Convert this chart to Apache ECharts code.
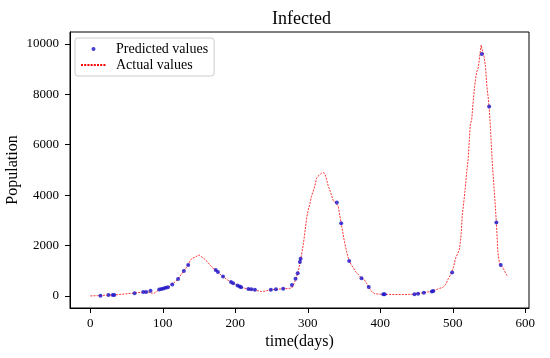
<!DOCTYPE html>
<html>
<head>
<meta charset="utf-8">
<script src="https://cdn.jsdelivr.net/npm/echarts@6/dist/echarts.min.js"></script>
<style>html,body{margin:0;padding:0;background:#fff}#c{width:550px;height:358px}</style>
</head>
<body>
<div id="c"></div>
<script>
// Actual values: [day, population]
const actualValues = [
[0,0],[5,5],[10,10],[15,15],[20,25],[25,35],[30,40],[35,45],[40,55],[45,70],[50,85],[55,100],[60,115],[65,130],[70,140],[75,150],[80,155],[84,110],[88,105],[92,190],[96,260],[100,290],[104,320],[108,350],[113,460],[117,560],[121,675],[125,830],[129,990],[132,1110],[135,1230],[138,1420],[141,1500],[144,1530],[147,1580],[150,1627],[152,1600],[155,1520],[158,1450],[161,1370],[164,1260],[168,1130],[171,1060],[174,1000],[177,920],[180,830],[183,767],[187,680],[191,600],[195,540],[199,470],[203,410],[207,360],[211,320],[215,290],[220,265],[225,240],[230,210],[236,172],[241,190],[246,230],[250,240],[256,260],[262,275],[266,285],[270,290],[275,300],[278,320],[281,500],[284,700],[287,1000],[290,1420],[292,1750],[294,2090],[296,2550],[298,3016],[300,3350],[303,3677],[305,3950],[308,4206],[310,4400],[312,4670],[314,4750],[316,4800],[319,4870],[322,4894],[324,4800],[326,4603],[328,4380],[331,4140],[335,3783],[338,3720],[340,3703],[342,3550],[344,3200],[346,2884],[348,2550],[350,2222],[352,1950],[354,1693],[357,1389],[360,1230],[363,1100],[366,960],[370,833],[374,700],[378,640],[381,500],[384,345],[388,172],[392,90],[396,75],[400,70],[405,65],[410,60],[420,55],[430,55],[440,60],[446,65],[452,90],[460,130],[466,160],[471,180],[474,200],[478,260],[482,305],[486,330],[490,450],[494,700],[497,850],[499,925],[501,1150],[503,1430],[505,1580],[507,1700],[509,1850],[511,2300],[513,3214],[515,3700],[517,4250],[519,4900],[521,5400],[523,6300],[524,6785],[526,7000],[528,7712],[530,8300],[532,8750],[533,8900],[535,9050],[537,9500],[539,9960],[541,9700],[543,9500],[545,9100],[547,8300],[549,7800],[550,7513],[552,6600],[553,5990],[555,5000],[557,4200],[558,3800],[560,2910],[562,1760],[564,1350],[566,1230],[568,1150],[570,1070],[572,950],[574,833],[576,767]
];
// Predicted values: [day, population]
const predictedValues = [
[14,5],[25,35],[31,40],[33,40],[61,105],[73,155],[77,160],[83,200],[95,255],[98,270],[101,290],[104,320],[107,340],[113,455],[121,675],[129,990],[135,1230],[173,1030],[176,950],[183,767],[194,555],[197,500],[203,410],[206,370],[208,340],[218,270],[222,260],[227,240],[249,245],[256,260],[266,280],[278,436],[283,680],[286,900],[289,1350],[290,1470],[340,3703],[346,2884],[357,1389],[374,700],[384,355],[404,65],[406,65],[447,70],[452,90],[460,125],[471,172],[473,195],[499,925],[540,9600],[550,7513],[560,2910],[566,1230]
];
const xTicks = [0,100,200,300,400,500,600];
const yTicks = [0,2000,4000,6000,8000,10000];
const seriesNames = ['Predicted values','Actual values'];

const FONT = 'Liberation Serif';
const plain = v => String(v);
const chart = echarts.init(document.getElementById('c'), null, {renderer:'canvas'});
chart.setOption({
  animation: false,
  backgroundColor: '#fff',
  title: {
    text: 'Infected', left: 267, top: 5,
    textStyle: {fontFamily: FONT, fontSize: 18, fontWeight: 'normal', color: '#000'}
  },
  legend: {
    orient: 'vertical', left: 75, top: 38,
    data: [
      {name: seriesNames[0], icon: 'circle'},
      {name: seriesNames[1], itemStyle: {opacity: 0}}
    ],
    itemWidth: 25, itemHeight: 4, itemGap: 2,
    padding: [4, 6, 4, 5],
    borderColor: '#cccccc', borderWidth: 1, borderRadius: 3,
    backgroundColor: 'rgba(255,255,255,0.8)',
    textStyle: {fontFamily: FONT, fontSize: 14, color: '#000', padding: [0,0,0,5]}
  },
  grid: {left: 70, right: 21, top: 32, bottom: 50, show: true, borderColor: '#000', borderWidth: 1,
         containLabel: false, outerBoundsMode: 'none'},
  xAxis: {
    type: 'value', min: -28, max: 605,
    name: 'time(days)', nameLocation: 'middle', nameGap: 26, nameMoveOverlap: false,
    nameTextStyle: {fontFamily: FONT, fontSize: 16, color: '#000'},
    axisLine: {show: true, onZero: false, lineStyle: {color: '#000', width: 1}},
    axisTick: {show: true, length: 5, customValues: xTicks, lineStyle: {color: '#000'}},
    axisLabel: {customValues: xTicks, formatter: plain, margin: 9, fontFamily: FONT, fontSize: 13, color: '#000'},
    splitLine: {show: false}
  },
  yAxis: {
    type: 'value', min: -480, max: 10475,
    name: 'Population', nameLocation: 'middle', nameGap: 49, nameMoveOverlap: false,
    nameTextStyle: {fontFamily: FONT, fontSize: 16, color: '#000'},
    axisLine: {show: true, onZero: false, lineStyle: {color: '#000', width: 1}},
    axisTick: {show: true, length: 5, customValues: yTicks, lineStyle: {color: '#000'}},
    axisLabel: {customValues: yTicks, formatter: plain, margin: 11, fontFamily: FONT, fontSize: 13, color: '#000'},
    splitLine: {show: false}
  },
  series: [
    {
      name: seriesNames[0], type: 'scatter', data: predictedValues,
      symbol: 'circle', symbolSize: 4, z: 5,
      itemStyle: {color: '#1810c8'}
    },
    {
      name: seriesNames[1], type: 'line', data: actualValues,
      symbol: 'none', showSymbol: false, z: 3,
      lineStyle: {color: '#ff0000', width: 0.8, type: [2, 1.2]}
    }
  ]
});
</script>
</body>
</html>
